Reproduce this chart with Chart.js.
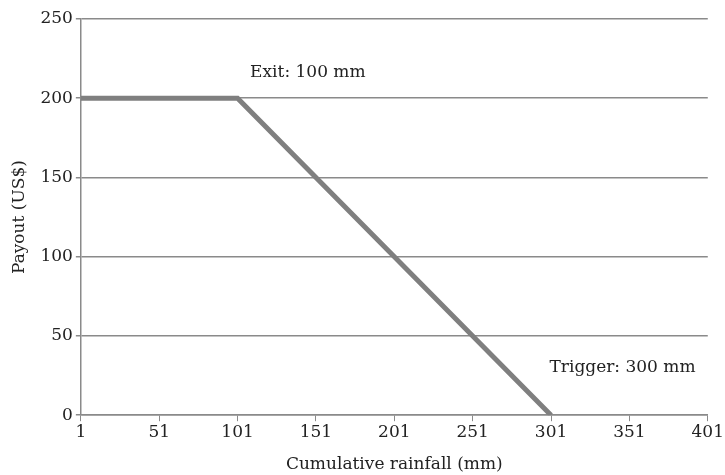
<!DOCTYPE html>
<html>
<head>
<meta charset="utf-8">
<script src="https://cdn.jsdelivr.net/npm/chart.js@4/dist/chart.umd.min.js"></script>
<style>
  html, body { margin: 0; padding: 0; background: #fff; }
  #wrap { width: 725px; height: 475px; position: relative; }
</style>
</head>
<body>
<div id="wrap"><canvas id="grafico"></canvas></div>
<script>
// rainfall (mm) -> payout (US$)
const chuva = [1, 101, 301];
const pagamento = [200, 200, 0];

const xTicks = [1, 51, 101, 151, 201, 251, 301, 351, 401];
const yTicks = [0, 50, 100, 150, 200, 250];

// text notes: [text, x value, y value]
const notas = [
  ["Exit: 100 mm", 109, 216],
  ["Trigger: 300 mm", 300, 30],
];

const fonte = "'DejaVu Serif', serif";
const tam = 17;
const cinza = "#8a8a8a";

const pluginNotas = {
  id: "notas",
  afterDatasetsDraw(chart) {
    const { ctx, scales } = chart;
    ctx.save();
    ctx.font = tam + "px " + fonte;
    ctx.fillStyle = "#222";
    ctx.textAlign = "left";
    ctx.textBaseline = "middle";
    notas.forEach(([txt, xv, yv]) => {
      ctx.fillText(txt, scales.x.getPixelForValue(xv), scales.y.getPixelForValue(yv));
    });
    ctx.restore();
  },
};

new Chart(document.getElementById("grafico"), {
  type: "line",
  data: {
    datasets: [
      {
        data: chuva.map((x, i) => ({ x, y: pagamento[i] })),
        borderColor: "#7f7f7f",
        borderWidth: 5,
        pointRadius: 0,
        tension: 0,
        fill: false,
      },
    ],
  },
  options: {
    responsive: true,
    maintainAspectRatio: false,
    animation: false,
    layout: { padding: { top: 19, right: 0, left: 9, bottom: 0 } },
    plugins: {
      legend: { display: false },
      tooltip: { enabled: false },
    },
    scales: {
      x: {
        type: "linear",
        min: 1,
        max: 401,
        afterBuildTicks: (s) => { s.ticks = xTicks.map((v) => ({ value: v })); },
        ticks: {
          color: "#222",
          font: { family: fonte, size: tam },
          padding: 1,
          maxRotation: 0,
        },
        grid: {
          color: "transparent",
          tickColor: cinza,
          tickLength: 6,
        },
        border: { display: true, color: cinza, width: 1.5 },
        title: {
          display: true,
          text: "Cumulative rainfall (mm)",
          color: "#222",
          font: { family: fonte, size: tam },
          padding: { top: 11, bottom: 0 },
        },
      },
      y: {
        min: 0,
        max: 250,
        afterBuildTicks: (s) => { s.ticks = yTicks.map((v) => ({ value: v })); },
        ticks: {
          color: "#222",
          font: { family: fonte, size: tam },
          padding: 3,
        },
        grid: {
          color: cinza,
          lineWidth: 1.5,
          tickColor: cinza,
          tickLength: 5,
        },
        border: { display: true, color: cinza, width: 1.5 },
        title: {
          display: true,
          text: "Payout (US$)",
          color: "#222",
          font: { family: fonte, size: tam },
          padding: { top: 0, bottom: 8 },
        },
      },
    },
  },
  plugins: [pluginNotas],
});
</script>
</body>
</html>
